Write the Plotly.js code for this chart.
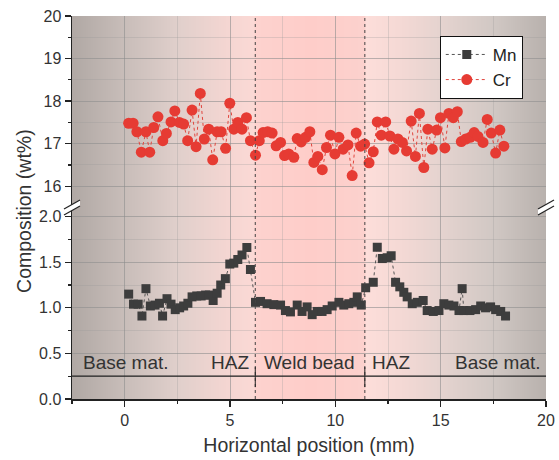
<!DOCTYPE html>
<html>
<head>
<meta charset="utf-8">
<script src="https://cdn.plot.ly/plotly-3.0.1.min.js"></script>
<style>html,body{margin:0;padding:0;background:#fff;}#chart{width:559px;height:460px;}</style>
</head>
<body>
<div id="chart"></div>
<script>
// ---- data ----
var mnX = [0.19,0.42,0.64,0.82,1.01,1.22,1.44,1.65,1.80,2.01,2.20,2.40,2.61,2.80,3.00,3.20,3.42,3.63,3.84,4.02,4.20,4.39,4.56,4.78,4.99,5.18,5.37,5.57,5.80,5.97,6.21,6.45,6.76,7.08,7.40,7.63,7.87,8.19,8.42,8.66,8.90,9.14,9.37,9.61,9.85,10.17,10.40,10.64,10.88,11.04,11.23,11.44,11.80,11.99,12.23,12.46,12.65,12.86,13.06,13.25,13.41,13.65,13.89,14.17,14.36,14.65,14.92,15.15,15.39,15.63,15.87,16.02,16.10,16.39,16.66,16.90,17.13,17.37,17.61,17.85,18.08];
var mnY = [1.15,1.04,1.04,0.91,1.21,1.02,1.03,1.05,0.91,1.10,1.04,0.98,1.00,1.02,1.05,1.12,1.13,1.13,1.14,1.14,1.08,1.16,1.25,1.32,1.48,1.49,1.53,1.58,1.66,1.42,1.06,1.07,1.045,1.035,1.03,0.97,0.955,1.03,0.96,1.01,0.925,0.96,0.96,0.98,1.02,1.06,1.03,1.045,1.06,1.12,1.03,1.22,1.28,1.665,1.54,1.55,1.57,1.28,1.23,1.17,1.12,1.045,1.06,1.08,0.97,0.96,0.97,1.045,1.03,1.02,0.97,1.21,0.97,0.97,0.98,1.02,1.00,1.01,0.98,0.96,0.91];
var crX = [0.19,0.40,0.58,0.79,1.01,1.19,1.38,1.58,1.81,1.98,2.20,2.38,2.60,2.80,2.99,3.20,3.39,3.59,3.78,3.99,4.18,4.39,4.58,4.79,4.99,5.18,5.37,5.57,5.78,5.97,6.21,6.39,6.57,6.79,7.00,7.19,7.40,7.59,7.79,8.03,8.19,8.38,8.59,8.79,8.98,9.17,9.38,9.58,9.77,9.98,10.17,10.37,10.60,10.80,10.99,11.20,11.39,11.60,11.80,11.99,12.18,12.39,12.59,12.78,12.97,13.18,13.38,13.60,13.80,13.99,14.20,14.39,14.60,14.81,14.99,15.20,15.39,15.60,15.79,15.98,16.19,16.40,16.59,16.77,17.01,17.21,17.40,17.61,17.81,18.00];
var crY = [17.48,17.48,17.28,16.80,17.28,16.80,17.38,17.63,17.07,17.24,17.51,17.77,17.50,17.46,17.07,17.79,16.93,18.18,17.11,17.34,16.62,17.28,17.28,16.89,17.95,17.34,17.50,17.34,17.61,17.07,16.73,17.07,17.26,17.28,17.25,16.95,17.03,16.72,16.76,16.68,17.12,17.04,17.15,17.28,16.56,16.70,16.39,16.91,17.20,16.76,17.15,16.87,16.97,16.25,17.25,16.94,16.99,16.55,16.81,17.51,17.20,17.51,17.18,16.87,17.11,17.03,16.83,17.53,16.70,17.71,16.44,17.34,16.87,17.32,17.61,16.90,17.71,17.61,17.75,17.05,17.11,17.15,17.26,17.17,17.03,17.57,17.25,16.78,17.32,16.94];
var seriesNames = ['Mn', 'Cr'];
var zoneBounds = [6.2, 11.4];
var zoneLabels = ['Base mat.', 'HAZ', 'Weld bead', 'HAZ', 'Base mat.'];
var xTickVals = [0, 5, 10, 15, 20];
var topTickVals = [16, 17, 18, 19, 20];
var botTickVals = [0.0, 0.5, 1.0, 1.5, 2.0];

// ---- styling ----
var FONT = 'Liberation Sans, Arial, sans-serif';
var XR = [-2.5, 20], TOPR = [15.5, 20], BOTR = [0, 2.1];
var gridC = 'rgba(140,140,140,0.45)', minorGridC = 'rgba(150,150,150,0.28)';

// background gradient (decoration) rendered to a canvas image
var stops = [[-2.5,[176,168,164]],[0,[200,189,185]],[2.5,[224,207,203]],[5,[245,214,210]],[6.15,[251,217,213]],[6.2,[253,210,206]],[8.8,[254,205,201]],[11.4,[252,209,205]],[11.45,[253,222,218]],[13,[245,217,213]],[15,[229,211,207]],[17.5,[209,200,196]],[20,[184,177,173]]];
function bgRGB(x){
  for (var i=0;i<stops.length-1;i++){
    var a=stops[i], b=stops[i+1];
    if (x>=a[0] && x<=b[0]){
      var t=(x-a[0])/(b[0]-a[0]);
      return a[1].map(function(v,k){return Math.round(v+(b[1][k]-v)*t);});
    }
  }
  return [184,177,173];
}
var W = 474;
var cv = document.createElement('canvas'); cv.width = W; cv.height = 4;
var ctx = cv.getContext('2d');
for (var i=0;i<W;i++){
  var c = bgRGB(XR[0] + (i+0.5)/W*(XR[1]-XR[0]));
  ctx.fillStyle = 'rgb('+c.join(',')+')';
  ctx.fillRect(i,0,1,4);
}
var bgURL = cv.toDataURL('image/png');

var shapes = [];
zoneBounds.forEach(function(b){
  shapes.push({type:'line', layer:'above', xref:'x', yref:'paper', x0:b, x1:b, y0:0, y1:1, line:{color:'#444', width:1, dash:'dot'}});
  shapes.push({type:'line', layer:'above', xref:'x', yref:'y2', x0:b, x1:b, y0:0.13, y1:0.35, line:{color:'#222', width:1}});
});
shapes.push({type:'line', layer:'above', xref:'paper', yref:'y2', x0:0, x1:1, y0:0.25, y1:0.25, line:{color:'#222', width:1.2}});
// axis break marks
function brk(px){
  var dx = 8/474, dy = 4.5/383, gap = 6/383;
  shapes.push({type:'path', layer:'above', xref:'paper', yref:'paper',
    path:'M '+(px-dx)+' '+(0.5-gap/2-dy)+' L '+(px+dx)+' '+(0.5-gap/2+dy)+' L '+(px+dx)+' '+(0.5+gap/2+dy)+' L '+(px-dx)+' '+(0.5+gap/2-dy)+' Z',
    fillcolor:'#ffffff', line:{width:0}});
  shapes.push({type:'line', layer:'above', xref:'paper', yref:'paper', x0:px-dx, x1:px+dx, y0:0.5-gap/2-dy, y1:0.5-gap/2+dy, line:{color:'#222', width:1.2}});
  shapes.push({type:'line', layer:'above', xref:'paper', yref:'paper', x0:px-dx, x1:px+dx, y0:0.5+gap/2-dy, y1:0.5+gap/2+dy, line:{color:'#222', width:1.2}});
}
brk(0); brk(1);

var traces = [
  {x:mnX, y:mnY, name:seriesNames[0], type:'scatter', mode:'lines+markers', xaxis:'x', yaxis:'y2',
   line:{color:'#555', width:1, dash:'dot'}, marker:{symbol:'square', size:9, color:'#3d3d3d'}},
  {x:crX, y:crY, name:seriesNames[1], type:'scatter', mode:'lines+markers', xaxis:'x', yaxis:'y',
   line:{color:'#e0463e', width:1, dash:'dot'}, marker:{symbol:'circle', size:11, color:'#e63b33'}}
];

var zx = [XR[0], zoneBounds[0], zoneBounds[0], zoneBounds[1], XR[1]];
var zanch = ['left','right','left','left','right'];
var zshift = [9, -4, 7, 5, -3];
var annotations = zoneLabels.map(function(t,i){
  return {text:t, x:zx[i], y:0.4, xref:'x', yref:'y2', xanchor:zanch[i], yanchor:'middle', xshift:zshift[i], showarrow:false, font:{family:FONT, size:19, color:'#333'}};
});
annotations.push({text:'Composition (wt%)', xref:'paper', yref:'paper', x:-0.1, y:0.49, textangle:-90, xanchor:'center', yanchor:'middle', showarrow:false, font:{family:FONT, size:19.5, color:'#333'}});

var commonY = {showline:true, linecolor:'#222', linewidth:1.5, zeroline:false, mirror:false};
var layout = {
  width:559, height:460,
  margin:{l:72, r:13, t:16, b:61},
  paper_bgcolor:'#ffffff', plot_bgcolor:'rgba(0,0,0,0)',
  showlegend:true,
  legend:{x:0.951, y:0.948, xanchor:'right', yanchor:'top', bgcolor:'#ffffff', bordercolor:'#111', borderwidth:1, itemwidth:42, tracegroupgap:0,
    font:{family:FONT, size:17, color:'#222'}},
  images:[{source:bgURL, xref:'paper', yref:'paper', x:0, y:1, sizex:1, sizey:1, sizing:'stretch', xanchor:'left', yanchor:'top', layer:'below'}],
  xaxis:{range:XR, anchor:'y2', domain:[0,1], showline:true, linecolor:'#222', linewidth:1.5, zeroline:false,
    tickvals:xTickVals, ticks:'outside', ticklen:6, tickwidth:1.3, tickcolor:'#222',
    tickfont:{family:FONT, size:16, color:'#333'},
    showgrid:true, gridcolor:gridC, gridwidth:1,
    minor:{dtick:2.5, ticks:'outside', ticklen:3, tickcolor:'#222', showgrid:true, gridcolor:minorGridC},
    title:{text:'Horizontal position (mm)', font:{family:FONT, size:19.5, color:'#333'}, standoff:10}},
  xaxis2:{range:XR, overlaying:'x', side:'top', anchor:'y', showline:true, linecolor:'#222', linewidth:1.5, zeroline:false,
    tickvals:xTickVals, ticks:'inside', ticklen:6, tickwidth:1.3, tickcolor:'#222', showticklabels:false, showgrid:false,
    minor:{dtick:2.5, ticks:'inside', ticklen:6, tickcolor:'#222', showgrid:false}},
  yaxis:Object.assign({}, commonY, {range:TOPR, domain:[0.5,1], anchor:'x',
    tickvals:topTickVals, ticks:'outside', ticklen:6, tickwidth:1.3, tickcolor:'#222',
    tickfont:{family:FONT, size:16, color:'#333'},
    showgrid:true, gridcolor:gridC,
    minor:{dtick:0.5, tick0:0, ticks:'outside', ticklen:3, tickcolor:'#222', showgrid:true, gridcolor:minorGridC}}),
  yaxis2:Object.assign({}, commonY, {range:BOTR, domain:[0,0.5], anchor:'x',
    tickvals:botTickVals, tickformat:'.1f', ticks:'outside', ticklen:6, tickwidth:1.3, tickcolor:'#222',
    tickfont:{family:FONT, size:16, color:'#333'},
    showgrid:true, gridcolor:gridC,
    minor:{dtick:0.25, tick0:0, ticks:'outside', ticklen:3, tickcolor:'#222', showgrid:true, gridcolor:minorGridC}}),
  yaxis3:Object.assign({}, commonY, {range:TOPR, overlaying:'y', side:'right', anchor:'x',
    tickvals:topTickVals, ticks:'inside', ticklen:6, tickwidth:1.3, tickcolor:'#222', showticklabels:false, showgrid:false,
    minor:{dtick:0.5, tick0:0, ticks:'inside', ticklen:6, tickcolor:'#222', showgrid:false}}),
  yaxis4:Object.assign({}, commonY, {range:BOTR, overlaying:'y2', side:'right', anchor:'x',
    tickvals:botTickVals, ticks:'inside', ticklen:6, tickwidth:1.3, tickcolor:'#222', showticklabels:false, showgrid:false,
    minor:{dtick:0.25, tick0:0, ticks:'inside', ticklen:6, tickcolor:'#222', showgrid:false}}),
  shapes:shapes,
  annotations:annotations
};

Plotly.newPlot('chart', traces, layout, {displayModeBar:false, staticPlot:true});
</script>
</body>
</html>
